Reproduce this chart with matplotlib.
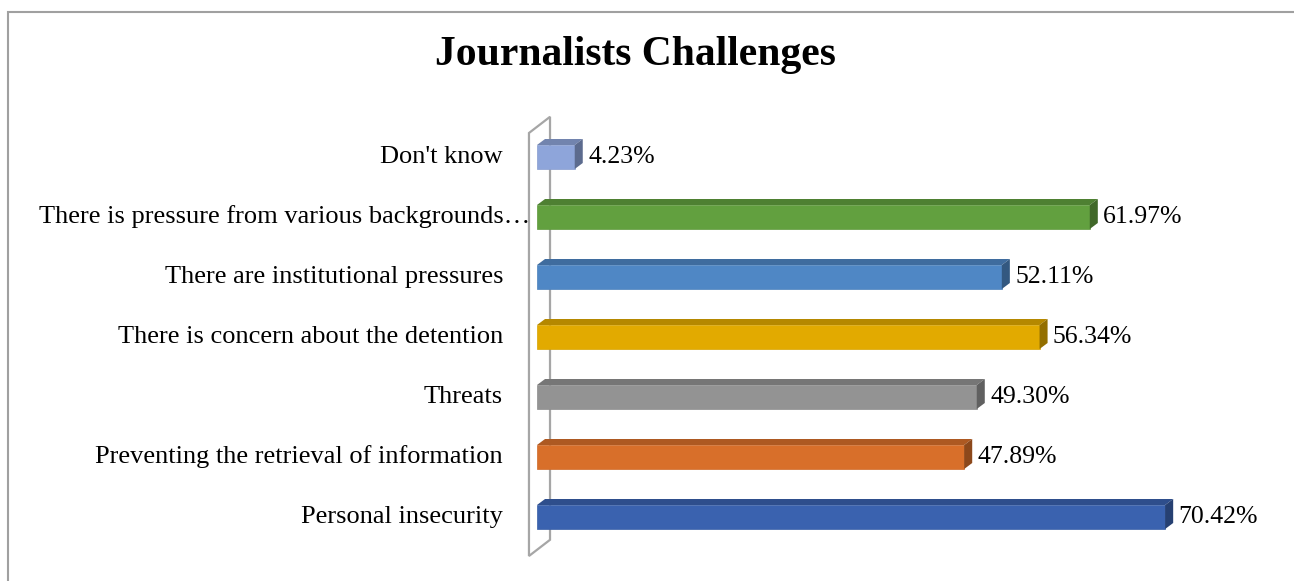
import matplotlib
matplotlib.use("Agg")
import matplotlib.pyplot as plt
from matplotlib.patches import Polygon, Rectangle
import matplotlib.colors as mcolors

categories = ["Personal insecurity",
              "Preventing the retrieval of information",
              "Threats",
              "There is concern about the detention",
              "There are institutional pressures",
              "There is pressure from various backgrounds\u2026",
              "Don't know"]
values = [70.42, 47.89, 49.30, 56.34, 52.11, 61.97, 4.23]
value_labels = ["70.42%", "47.89%", "49.30%", "56.34%", "52.11%", "61.97%", "4.23%"]
colors = ["#3A62AF", "#D86F2A", "#939393", "#E2AA00", "#4F87C5", "#62A03F", "#8EA5DA"]
title = "Journalists Challenges"

W, H = 1294, 581
fig = plt.figure(figsize=(W / 100, H / 100), dpi=100)
fig.patch.set_facecolor("white")

# outer border (only top and left visible)
fig.patches.append(Rectangle((8 / W, -0.5), 2, 1.5 - 12 / H, transform=fig.transFigure,
                             fill=False, edgecolor="#A0A0A0", lw=1.5))

px_per_unit = 8.92
x0_px = 537
xmax = 80
ax = fig.add_axes([x0_px / W, 19 / H, xmax * px_per_unit / W, 450 / H])
ax.set_xlim(0, xmax)
ax.set_ylim(-0.75, 6.75)
ax.axis("off")

def darker(c, f):
    r, g, b = mcolors.to_rgb(c)
    return (r * f, g * f, b * f)

# back wall
wall = Polygon([(-0.9, 6.4), (1.46, 6.67), (1.46, -0.38), (-0.9, -0.65)], closed=True,
               fill=False, edgecolor="#A6A6A6", lw=1.6, zorder=1, clip_on=False)
ax.add_patch(wall)

h = 0.4
dx = 0.9
dy = 0.1
serif = ["Liberation Serif", "DejaVu Serif"]
for i, (v, c, lab, cat) in enumerate(zip(values, colors, value_labels, categories)):
    y = i
    ax.barh(y, v, height=h, color=c, edgecolor=darker(c, 0.95), lw=0.5, zorder=3)
    top = Polygon([(0, y + h / 2), (dx, y + h / 2 + dy), (v + dx, y + h / 2 + dy), (v, y + h / 2)],
                  closed=True, facecolor=darker(c, 0.8), edgecolor="none", zorder=3)
    side = Polygon([(v, y - h / 2), (v + dx, y - h / 2 + dy), (v + dx, y + h / 2 + dy), (v, y + h / 2)],
                   closed=True, facecolor=darker(c, 0.65), edgecolor="none", zorder=3)
    ax.add_patch(top)
    ax.add_patch(side)
    ax.text(v + dx + 0.6, y, lab, ha="left", va="center", fontsize=18.5,
            family=serif, color="black", zorder=4)
    # category label (the truncated one overhangs toward the wall)
    off = -0.8 if cat.endswith("\u2026") else -3.8
    ax.text(off, y, cat, ha="right", va="center", fontsize=19,
            family=serif, color="black", zorder=5)

fig.text(635 / W, 1 - 55 / H, title, ha="center", va="center", fontsize=30,
         fontweight="bold", family=serif)

fig.savefig("out.png", dpi=100)
